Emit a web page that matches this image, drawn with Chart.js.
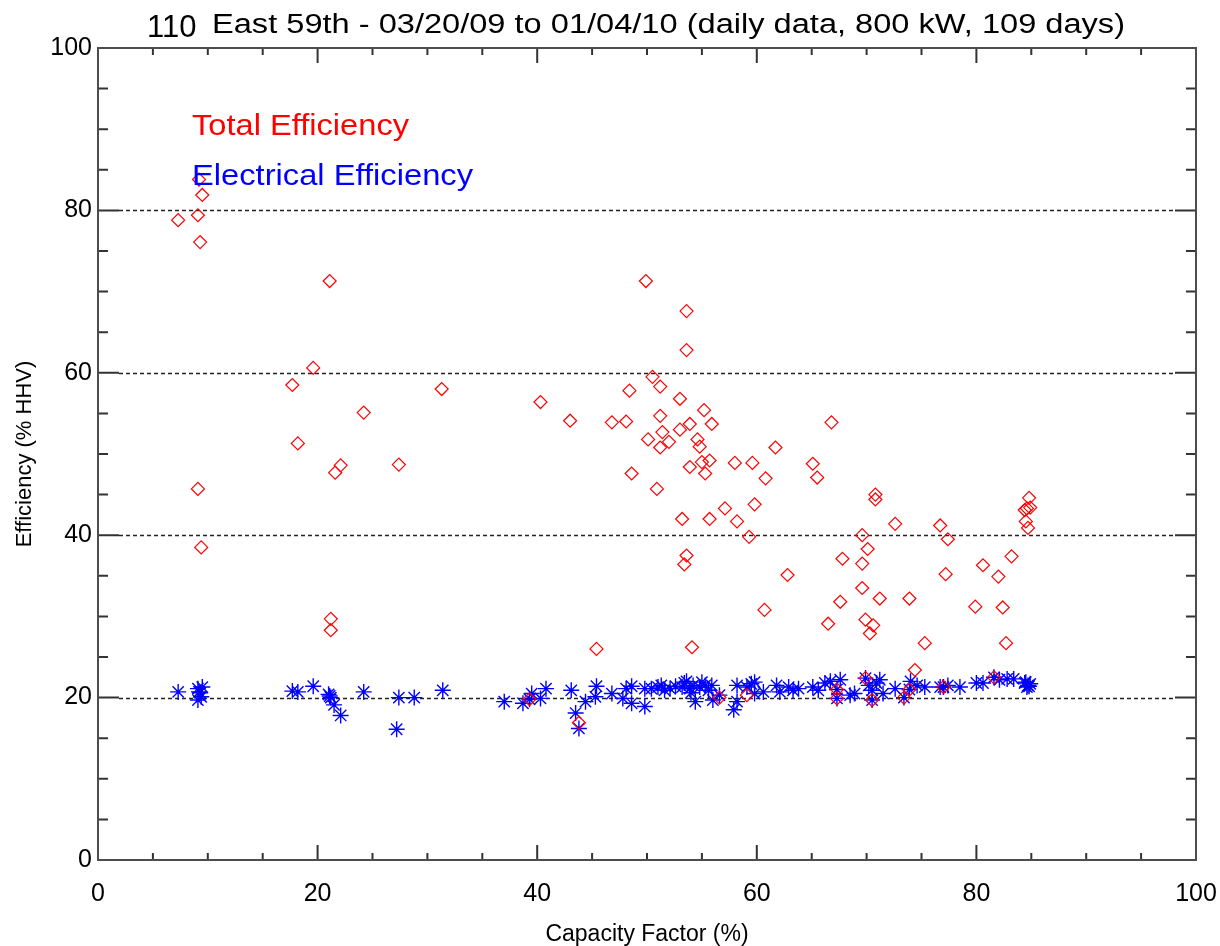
<!DOCTYPE html>
<html>
<head>
<meta charset="utf-8">
<title>110 East 59th - efficiency vs capacity factor</title>
<script src="https://cdn.jsdelivr.net/npm/chart.js@4"></script>
<style>
  html, body { margin: 0; padding: 0; background: #fff; }
  #wrap { width: 1220px; height: 946px; }
</style>
</head>
<body>
<div id="wrap"><canvas id="myChart" width="1220" height="946"></canvas></div>
<script>
// daily data: capacity factor (%) vs total / electrical efficiency (% HHV)
var totalCF = [7.3, 9.1, 9.2, 9.5, 9.3, 9.1, 9.4, 17.7, 18.2, 19.6, 21.1, 21.2, 21.2, 21.6, 22.1, 24.2, 27.4, 31.3,
	39.3, 40.3, 43.0, 43.8, 45.4, 46.8, 48.1, 48.4, 48.6, 49.9, 50.1, 50.5, 50.9, 51.2, 51.2, 51.2, 51.4, 52.0,
	53.0, 53.0, 53.2, 53.4, 53.6, 53.6, 53.6, 53.9, 53.9, 54.1, 54.6, 54.8, 55.0, 55.2, 55.3, 55.7, 55.7, 55.9,
	56.6, 57.1, 58.0, 58.2, 59.1, 59.3, 59.6, 59.8, 60.7, 60.8, 61.7, 62.8, 65.1, 65.5, 66.5, 66.8, 67.3, 67.3,
	67.6, 67.8, 69.6, 69.6, 69.6, 69.9, 69.9, 70.1, 70.3, 70.5, 70.6, 70.8, 70.8, 71.2, 72.6, 73.4, 73.9, 73.9,
	74.4, 75.3, 76.7, 77.0, 77.2, 77.4, 79.9, 80.6, 81.6, 82.0, 82.4, 82.7, 83.2, 84.4, 84.6, 84.9, 84.5, 84.7, 84.8];
var totalEff = [78.8, 79.4, 83.8, 81.9, 76.1, 45.7, 38.5, 58.5, 51.3, 60.6, 71.3, 29.7, 28.3, 47.7, 48.6, 55.1, 48.7, 58.0,
	19.8, 56.4, 54.1, 16.9, 26.0, 53.9, 54.0, 57.8, 47.6, 71.3, 51.8, 59.5, 45.7, 58.3, 54.7, 50.8, 52.7, 51.5,
	56.8, 53.0, 42.0, 36.4, 37.5, 62.8, 67.6, 53.7, 48.4, 26.2, 51.8, 50.9, 49.0, 55.4, 47.6, 49.2, 42.0, 53.7,
	20.0, 43.3, 48.9, 41.7, 20.3, 39.8, 48.9, 43.8, 30.8, 47.0, 50.8, 35.1, 48.8, 47.1, 29.1, 53.9, 21.0, 19.9,
	31.8, 37.1, 40.0, 36.5, 33.5, 22.4, 29.6, 38.3, 27.9, 19.7, 28.9, 45.0, 44.4, 32.2, 41.4, 20.0, 21.0, 32.2,
	23.4, 26.7, 41.2, 21.3, 35.2, 39.5, 31.2, 36.3, 22.5, 34.9, 31.1, 26.7, 37.4, 43.1, 43.3, 43.4, 41.7, 40.9, 44.6];

var elecCF = [7.3, 9.1, 9.2, 9.5, 9.3, 9.1, 9.4, 17.7, 18.2, 19.6, 21.0, 21.1, 21.2, 21.5, 22.1, 24.2, 27.2, 27.4, 28.8,
	31.4, 37.0, 38.7, 39.3, 39.5, 40.3, 40.8, 43.1, 43.5, 43.8, 44.4, 45.3, 45.4, 46.8, 47.8, 48.1, 48.6, 48.6,
	49.8, 49.8, 50.4, 51.0, 51.3, 51.6, 52.1, 52.6, 53.2, 53.4, 53.6, 53.9, 54.0, 54.2, 54.4, 54.8, 55.0, 55.3,
	55.6, 55.9, 56.0, 56.6, 57.9, 58.2, 58.2, 59.1, 59.5, 59.8, 59.8, 60.6, 61.8, 62.1, 62.9, 63.3, 63.8, 65.1,
	65.6, 66.2, 66.7, 67.6, 67.3, 67.3, 68.5, 68.9, 69.9, 70.2, 70.5, 70.9, 71.2, 71.5, 70.5, 72.6, 73.4, 73.9,
	74.0, 74.6, 75.3, 76.7, 77.0, 77.4, 78.5, 80.0, 80.6, 81.6, 82.1, 82.8, 83.4, 84.4, 84.6, 84.7, 84.9, 84.5, 84.8];
var elecEff = [20.7, 21.1, 20.7, 21.3, 20.6, 19.7, 20.1, 20.8, 20.7, 21.4, 20.4, 20.2, 20.0, 19.1, 17.8, 20.7, 16.1, 20.0, 20.0,
	20.9, 19.5, 19.3, 19.8, 20.5, 19.9, 21.1, 20.9, 18.1, 16.2, 19.5, 20.1, 21.4, 20.5, 19.9, 21.1, 21.4, 19.3,
	21.1, 18.9, 21.1, 21.3, 21.5, 20.9, 21.1, 21.4, 21.3, 21.8, 22.0, 21.1, 20.6, 21.5, 19.5, 21.3, 21.9, 21.5,
	20.9, 21.5, 19.7, 20.3, 18.5, 21.5, 19.5, 21.3, 21.7, 21.9, 20.5, 20.7, 21.5, 20.7, 21.3, 20.9, 21.1, 21.3,
	20.9, 21.8, 22.0, 22.2, 19.9, 21.0, 20.3, 20.5, 22.4, 21.5, 20.9, 21.8, 22.2, 20.5, 19.7, 21.1, 20.0, 21.0,
	22.0, 21.5, 21.3, 21.3, 21.3, 21.5, 21.3, 21.8, 21.8, 22.5, 22.2, 22.3, 22.3, 21.8, 21.3, 21.5, 21.7, 21.9, 21.4];

var xTicks = [0, 20, 40, 60, 80, 100];
var yTicks = [0, 20, 40, 60, 80, 100];
var titleSite = "110";
var titleRest = "East 59th - 03/20/09 to 01/04/10 (daily data, 800 kW, 109 days)";
var seriesNames = ["Total Efficiency", "Electrical Efficiency"];
var seriesColors = ["#ff0000", "#0000ff"];

function toPoints(xs, ys) {
	var pts = [];
	for (var i = 0; i < xs.length; i++) {
		pts.push({ x: xs[i], y: ys[i] });
	}
	return pts;
}

var FONT = "'Liberation Sans', Arial, sans-serif";
Chart.defaults.font.family = FONT;
Chart.defaults.color = "#000";

// draw text stretched sideways so it fills a given width
function wideText(ctx, text, x, y, width) {
	var w = ctx.measureText(text).width;
	ctx.save();
	ctx.translate(x, y);
	ctx.scale(width / w, 1);
	ctx.fillText(text, 0, 0);
	ctx.restore();
}

// box, inward ticks, dashed grid, title and the text legend
var framePlugin = {
	id: "frame",
	beforeDatasetsDraw: function(chart) {
		var ctx = chart.ctx, a = chart.chartArea, ys = chart.scales.y;
		ctx.save();
		ctx.strokeStyle = "#222";
		ctx.lineWidth = 1.5;
		ctx.setLineDash([4, 3]);
		[20, 40, 60, 80].forEach(function(v) {
			var py = Math.round(ys.getPixelForValue(v)) + 0.5;
			ctx.beginPath();
			ctx.moveTo(a.left + 21, py);
			ctx.lineTo(a.right - 21, py);
			ctx.stroke();
		});
		ctx.restore();
	},
	afterDatasetsDraw: function(chart) {
		var ctx = chart.ctx, a = chart.chartArea;
		var xs = chart.scales.x, ys = chart.scales.y;
		ctx.save();
		ctx.strokeStyle = "#333";
		ctx.lineWidth = 2;
		ctx.beginPath();
		for (var v = 5; v < 100; v += 5) {
			var major = v % 20 === 0;
			var px = xs.getPixelForValue(v);
			var lx = major ? 15 : 7;
			ctx.moveTo(px, a.bottom); ctx.lineTo(px, a.bottom - lx);
			ctx.moveTo(px, a.top); ctx.lineTo(px, a.top + lx);
			var py = ys.getPixelForValue(v);
			var ly = major ? 21 : 10;
			ctx.moveTo(a.left, py); ctx.lineTo(a.left + ly, py);
			ctx.moveTo(a.right, py); ctx.lineTo(a.right - ly, py);
		}
		ctx.stroke();
		ctx.strokeStyle = "#4d4d4d";
		ctx.strokeRect(a.left, a.top, a.right - a.left, a.bottom - a.top);
		ctx.restore();
	},
	afterDraw: function(chart) {
		var ctx = chart.ctx;
		ctx.save();
		ctx.fillStyle = "#000";
		ctx.textAlign = "left";
		ctx.textBaseline = "alphabetic";
		ctx.font = "31px " + FONT;
		ctx.fillText(titleSite, 147, 37);
		ctx.font = "27px " + FONT;
		wideText(ctx, titleRest, 212, 33, 913);

		ctx.font = "29px " + FONT;
		ctx.fillStyle = seriesColors[0];
		wideText(ctx, seriesNames[0], 192, 135, 217);
		ctx.fillStyle = seriesColors[1];
		wideText(ctx, seriesNames[1], 192, 185, 281);
		ctx.restore();
	}
};

new Chart("myChart", {
	type: "scatter",
	data: {
		datasets: [{
			label: seriesNames[0],
			data: toPoints(totalCF, totalEff),
			pointStyle: "rectRot",
			radius: 6.5,
			borderColor: seriesColors[0],
			backgroundColor: "rgba(0,0,0,0)",
			borderWidth: 1.2
		}, {
			label: seriesNames[1],
			data: toPoints(elecCF, elecEff),
			pointStyle: "star",
			radius: 8,
			borderColor: seriesColors[1],
			backgroundColor: seriesColors[1],
			borderWidth: 1.4
		}]
	},
	options: {
		responsive: false,
		animation: false,
		events: [],
		layout: { padding: { top: 48, right: 24, bottom: 0, left: 0 } },
		plugins: {
			legend: { display: false },
			title: { display: false },
			tooltip: { enabled: false }
		},
		scales: {
			x: {
				type: "linear",
				min: 0,
				max: 100,
				afterBuildTicks: function(s) { s.ticks = xTicks.map(function(v) { return { value: v }; }); },
				afterFit: function(s) { s.height = 86; s.paddingLeft = 0; s.paddingRight = 0; },
				ticks: { font: { size: 25 }, color: "#000", padding: 19, maxRotation: 0 },
				grid: { display: false, drawTicks: false },
				border: { display: false },
				title: { display: true, text: "Capacity Factor (%)", font: { size: 23 }, color: "#000", padding: { top: 0, bottom: -2 } }
			},
			y: {
				type: "linear",
				min: 0,
				max: 100,
				afterBuildTicks: function(s) { s.ticks = yTicks.map(function(v) { return { value: v }; }); },
				afterFit: function(s) { s.width = 98; s.paddingTop = 0; s.paddingBottom = 0; },
				ticks: { font: { size: 25 }, color: "#000", padding: 6 },
				grid: { display: false, drawTicks: false },
				border: { display: false },
				title: { display: true, text: "Efficiency (% HHV)", font: { size: 22 }, color: "#000", padding: { top: 12, bottom: 0 } }
			}
		}
	},
	plugins: [framePlugin]
});
</script>
</body>
</html>
